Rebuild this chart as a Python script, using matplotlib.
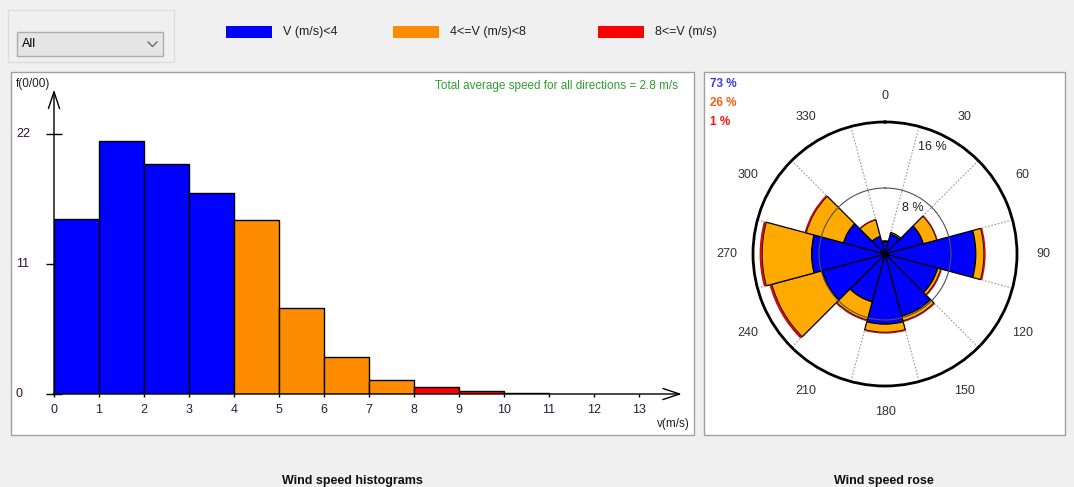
import numpy as np
import matplotlib.pyplot as plt
from matplotlib.patches import Rectangle
from matplotlib.lines import Line2D

plt.rcParams['font.family'] = ['Liberation Sans', 'DejaVu Sans']

# histogram data (frequency in per mille for each 1 m/s class)
speed_bins = [0, 1, 2, 3, 4, 5, 6, 7, 8, 9, 10]
speed_freq = [14.8, 21.4, 19.5, 17.0, 14.7, 7.25, 3.1, 1.2, 0.6, 0.25, 0.08]
y_ticks = [0, 11, 22]
x_ticks = list(range(14))

# wind rose data (% per direction sector)
directions = [0, 30, 60, 90, 120, 150, 180, 210, 240, 270, 300, 330]
rose_low = [1.5, 2.5, 4.8, 11.0, 6.6, 7.8, 8.5, 6.0, 7.9, 8.9, 5.2, 2.2]
rose_mid = [0.1, 0.2, 1.7, 1.0, 0.4, 0.6, 1.0, 2.3, 6.3, 6.0, 4.7, 2.1]
rose_high = [0.0, 0.0, 0.1, 0.2, 0.15, 0.15, 0.15, 0.15, 0.3, 0.3, 0.2, 0.1]
class_share = ['73 %', '26 %', '1 %']
class_names = ['V (m/s)<4', '4<=V (m/s)<8', '8<=V (m/s)']

BLUE = '#0000ff'
ORANGE = '#ff8c00'
ROSE_ORANGE = '#ffaa00'
RED = '#ff0000'

W, H = 1074, 487
def fx(x):
    return x / W
def fy(y):
    return 1 - y / H

fig = plt.figure(figsize=(W / 100, H / 100), dpi=100, facecolor='#f0f0f0')

def box(x0, y0, x1, y1, **kw):
    # rectangle given in pixel coords of the picture, kept behind the axes
    fig.patches.append(Rectangle((fx(x0), fy(y1)), (x1 - x0) / W, (y1 - y0) / H,
                                 transform=fig.transFigure, zorder=-5, **kw))

# panels and the little top controls
box(11, 72, 694, 435, fc='white', ec='#a0a0a0', lw=1)
box(704, 72, 1065, 435, fc='white', ec='#a0a0a0', lw=1)
box(8, 10, 174, 62, fc='none', ec='#dcdcdc', lw=1)
box(17, 32, 163, 56, fc='#e5e5e5', ec='#adadad', lw=1)
fig.text(fx(22), fy(44), 'All', fontsize=9, va='center')
fig.add_artist(Line2D([fx(148), fx(152.5), fx(157)], [fy(42), fy(46.5), fy(42)],
                      transform=fig.transFigure, color='#606060', lw=0.9))

leg_x = [226, 393, 598]
for lx, col, name in zip(leg_x, [BLUE, ORANGE, RED], class_names):
    box(lx, 26, lx + 46, 38, fc=col, ec='none')
    fig.text(fx(lx + 57), fy(32), name, fontsize=9, va='center', color='#202020')

# ---------- histogram ----------
ax = fig.add_axes([fx(54), fy(394), (690 - 54) / W, (394 - 88) / H])
ax.set_xlim(0, 636 / 45)
ax.set_ylim(0, 306 / 11.82)
ax.patch.set_visible(False)
for s in ax.spines.values():
    s.set_visible(False)

bar_colors = [BLUE if b < 4 else (ORANGE if b < 8 else RED) for b in speed_bins]
ax.bar(speed_bins, speed_freq, width=1, align='edge', color=bar_colors,
       edgecolor='black', lw=1, zorder=2)

arrow = dict(arrowstyle='->,head_length=1.2,head_width=0.4', lw=1, color='black',
             shrinkA=0, shrinkB=0)
ax.annotate('', xy=(0, 25.75), xytext=(0, 0), arrowprops=arrow, annotation_clip=False)
ax.annotate('', xy=(13.95, 0), xytext=(0, 0), arrowprops=arrow, annotation_clip=False)

ax.set_yticks(y_ticks)
ax.tick_params(axis='y', direction='inout', length=11, width=1, labelleft=False)
for t in y_ticks:
    ax.text(-38 / 636, t, str(t), transform=ax.get_yaxis_transform(), fontsize=9,
            ha='left', va='center', color='#301030')
ax.set_xticks(x_ticks)
ax.tick_params(axis='x', direction='out', length=2, width=1, pad=5, labelsize=9,
               labelcolor='#202040')

fig.text(fx(16), fy(84), 'f(0/00)', fontsize=8.5, va='center', color='#202020')
fig.text(fx(690), fy(424), 'v(m/s)', fontsize=8.5, va='center', ha='right', color='#202020')
fig.text(fx(678), fy(86), 'Total average speed for all directions = 2.8 m/s', fontsize=8.5,
         ha='right', va='center', color='#2ea02e')

# ---------- wind rose ----------
cx, cy, rad = 885, 254, 132
rax = fig.add_axes([fx(cx - rad), fy(cy + rad), 2 * rad / W, 2 * rad / H], projection='polar')
rax.set_theta_zero_location('N')
rax.set_theta_direction(-1)
rax.set_ylim(0, 16)
rax.patch.set_visible(False)
rax.spines['polar'].set_linewidth(2)
rax.set_xticks(np.deg2rad(np.arange(15, 360, 30)))
rax.set_xticklabels([])
rax.set_yticks([])
rax.tick_params(which='both', length=0)
rax.grid(True, axis='x', color='#999999', linestyle=(0, (1.5, 1.5)), lw=0.8)

theta = np.deg2rad(directions)
width = np.deg2rad(30)
low = np.array(rose_low)
mid = np.array(rose_mid)
high = np.array(rose_high)
rax.bar(theta, low, width=width, bottom=0, color=BLUE, edgecolor='black', lw=0.9, zorder=2)
rax.bar(theta, mid, width=width, bottom=low, color=ROSE_ORANGE, edgecolor='black', lw=0.9, zorder=2)
rax.bar(theta, high, width=width, bottom=low + mid, color='#c01010', edgecolor='none', lw=0, zorder=3)

# 8 % ring drawn over the bars, like in the original
circ = np.linspace(0, 2 * np.pi, 300)
rax.plot(circ, np.full_like(circ, 8.0), color='#505050', lw=0.8, zorder=5)

for d in directions:
    rax.text(np.deg2rad(d), 19.2, str(d), fontsize=9, ha='center', va='center', color='#303030')
rax.text(np.deg2rad(24), 14.2, '16 %', fontsize=9, ha='center', va='center', color='#202020')
rax.text(np.deg2rad(31), 6.5, '8 %', fontsize=9, ha='center', va='center', color='#202020', zorder=6)

for i, (txt, col) in enumerate(zip(class_share, ['#3535ff', '#ff5a10', '#ff1010'])):
    fig.text(fx(710), fy(84 + 19 * i), txt, fontsize=8.5, weight='bold', color=col, va='center')

fig.text(fx(352), fy(481), 'Wind speed histograms', fontsize=9, weight='bold', ha='center',
         va='center', color='#101010')
fig.text(fx(884), fy(481), 'Wind speed rose', fontsize=9, weight='bold', ha='center',
         va='center', color='#101010')

fig.savefig('out.png', dpi=100, facecolor=fig.get_facecolor())
